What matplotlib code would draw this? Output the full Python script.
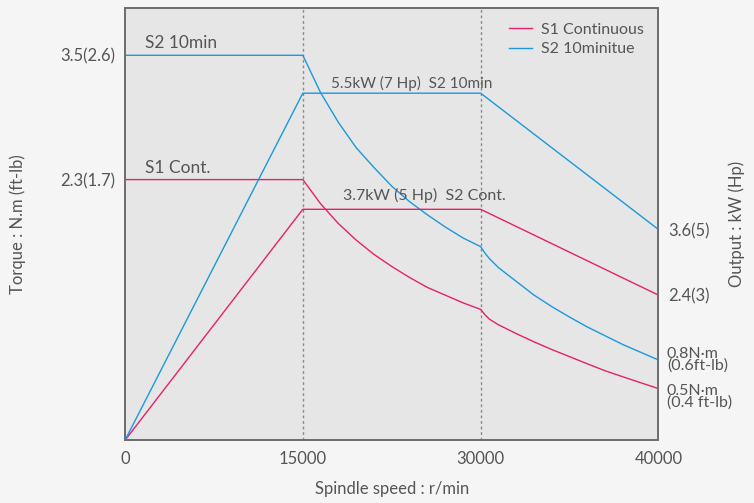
import numpy as np
import matplotlib
matplotlib.use('Agg')
from matplotlib import pyplot as plt

# speed axis: ticks are drawn equally spaced in the reference
speed_ticks = [0, 15000, 30000, 40000]
speed_labels = ['0', '15000', '30000', '40000']

# torque curves [N.m]
torque_rpm = [0, 15000, 16500, 18000, 19500, 21000, 22500, 24000, 25500, 27000, 28500, 30000,
              30250, 30500, 31000, 32000, 33000, 34000, 35000, 36000, 37000, 38000, 39000, 40000]
s2_torque = [3.50, 3.50, 3.16, 2.89, 2.66, 2.48, 2.31, 2.17, 2.05, 1.94, 1.84, 1.76,
             1.70, 1.65, 1.57, 1.445, 1.32, 1.215, 1.12, 1.03, 0.95, 0.87, 0.80, 0.73]
s1_torque = [2.37, 2.37, 2.15, 1.97, 1.82, 1.69, 1.58, 1.48, 1.39, 1.32, 1.25, 1.19,
             1.14, 1.10, 1.05, 0.97, 0.895, 0.825, 0.76, 0.695, 0.632, 0.577, 0.523, 0.47]

# output curves [kW]
power_rpm = [0, 15000, 30000, 40000]
s2_power = [0, 5.5, 5.5, 3.34]
s1_power = [0, 3.66, 3.66, 2.30]

torque_tick_labels = ['3.5(2.6)', '2.3(1.7)']
power_tick_labels = ['3.6(5)', '2.4(3)']
torque_end_labels = ['0.8N·m\n(0.6ft-lb)', '0.5N·m\n(0.4 ft-lb)']
torque_end_shift = [0, -6]

S1_COLOR = '#e5206e'
S2_COLOR = '#1b98dc'
TXT = '#555555'

plt.rcParams['font.family'] = ['Lato', 'DejaVu Sans']
plt.rcParams['font.size'] = 12


def fwd(x):
    return np.interp(x, speed_ticks, [0, 1, 2, 3])


def inv(p):
    return np.interp(p, [0, 1, 2, 3], speed_ticks)


fig = plt.figure(figsize=(7.54, 5.03), dpi=100, facecolor='#f5f5f5')
ax = fig.add_axes([0.1658, 0.1247, 0.7075, 0.8594])
ax.set_facecolor('#e6e6e6')
ax.set_xscale('function', functions=(fwd, inv))
ax.set_xlim(0, 40000)
ax.set_ylim(0, 3.93)

ax2 = ax.twinx()
ax2.set_ylim(0, 6.85)

for a in (ax, ax2):
    for s in a.spines.values():
        s.set_color('#6e6e6e')
        s.set_linewidth(1.3)

# dotted guides
for v in speed_ticks[1:3]:
    ax.axvline(v, color='#8a8a8a', lw=1.0, ls=(0, (2, 2)), zorder=1)

l1, = ax.plot(torque_rpm, s1_torque, color=S1_COLOR, lw=1.0, label='S1 Continuous')
l2, = ax.plot(torque_rpm, s2_torque, color=S2_COLOR, lw=1.0, label='S2 10minitue')
ax2.plot(power_rpm, s1_power, color=S1_COLOR, lw=1.0)
ax2.plot(power_rpm, s2_power, color=S2_COLOR, lw=1.0)

ax.set_xticks(speed_ticks)
ax.set_xticklabels(speed_labels)
ax.set_yticks([s2_torque[0], s1_torque[0]])
ax.set_yticklabels(torque_tick_labels)
ax2.set_yticks([s2_power[-1], s1_power[-1]])
ax2.set_yticklabels(power_tick_labels)
ax.tick_params(axis='both', length=0, colors=TXT, labelsize=12, pad=7)
ax.tick_params(axis='x', pad=8)
ax2.tick_params(axis='y', length=0, colors=TXT, labelsize=12, pad=7)

for val, lab, dy in zip([s2_torque[-1], s1_torque[-1]], torque_end_labels, torque_end_shift):
    ax.annotate(lab, xy=(1, val), xycoords=('axes fraction', 'data'), xytext=(6, dy),
                textcoords='offset points', va='center', ha='left', color=TXT,
                fontsize=11.5, linespacing=0.8)

ax.annotate('S2 10min', xy=(1700, s2_torque[0]), xytext=(0, 5), textcoords='offset points',
            va='baseline', color=TXT, fontsize=12.5)
ax.annotate('S1 Cont.', xy=(1700, s1_torque[0]), xytext=(0, 5), textcoords='offset points',
            va='baseline', color=TXT, fontsize=12.5)
ax2.annotate('5.5kW (7 Hp)  S2 10min', xy=(17400, s2_power[1]), xytext=(0, 4),
             textcoords='offset points', va='baseline', color=TXT, fontsize=11)
ax2.annotate('3.7kW (5 Hp)  S2 Cont.', xy=(18400, s1_power[1]), xytext=(0, 7),
             textcoords='offset points', va='baseline', color=TXT, fontsize=11.5)

ax.set_xlabel('Spindle speed : r/min', color=TXT, fontsize=12, labelpad=10)
ax.set_ylabel('Torque : N.m (ft-lb)', color=TXT, fontsize=12)
ax2.set_ylabel('Output : kW (Hp)', color=TXT, fontsize=12)
ax.yaxis.set_label_coords(-0.186, 0.5)
ax2.yaxis.set_label_coords(1.132, 0.5)

leg = ax2.legend([l1, l2], ['S1 Continuous', 'S2 10minitue'], loc='upper right',
                 frameon=False, fontsize=11.5, handlelength=1.4, handletextpad=0.6,
                 labelspacing=0.35, borderaxespad=0.5)
for t in leg.get_texts():
    t.set_color(TXT)

fig.savefig('out.png', dpi=100, facecolor=fig.get_facecolor())
